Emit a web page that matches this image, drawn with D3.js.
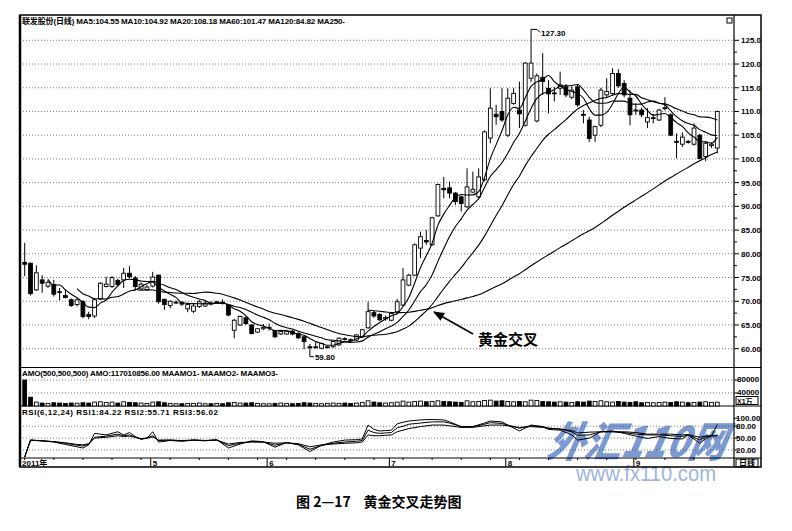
<!DOCTYPE html>
<html><head><meta charset="utf-8">
<script src="https://cdn.jsdelivr.net/npm/d3@7"></script>
<style>body{margin:0;background:#fff}svg{display:block}</style>
</head><body>
<svg id="c" width="792" height="531"></svg>
<script>
// ---------- DATA ----------
const opens=[78.2,78.0,72.4,74.5,73.2,73.5,72.0,71.2,70.3,69.3,69.9,67.2,66.9,70.5,73.1,73.1,74.4,74.5,75.9,74.9,72.6,72.4,73.2,75.5,70.4,69.1,69.8,69.8,68.4,67.9,68.9,69.0,69.6,69.7,69.8,69.2,63.9,65.0,66.5,65.0,63.5,64.2,64.4,63.7,63.1,63.1,63.7,63.2,62.5,60.4,60.3,60.1,60.3,60.4,60.8,62.1,61.9,61.8,62.5,64.4,67.6,67.2,66.3,66.0,67.8,69.2,73.4,75.5,81.2,82.8,81.9,88.0,93.8,93.9,92.8,92.0,89.9,93.0,92.0,95.6,104.4,109.4,110.0,105.0,111.7,110.3,107.1,117.0,108.0,117.2,114.9,113.9,114.9,115.2,113.0,115.2,109.4,108.2,105.0,107.1,113.5,113.8,118.0,115.9,112.8,110.3,110.3,107.8,108.5,108.2,110.6,109.3,103.7,103.1,103.7,103.1,105.0,100.5,102.8,102.3];
const highs=[82.3,78.2,77.6,75.5,74.5,74.5,72.8,72.5,70.6,70.8,70.2,67.8,70.6,74.0,75.2,75.3,74.8,77.0,77.4,75.3,74.0,73.4,76.2,75.6,70.6,70.2,70.2,70.0,69.4,69.6,70.3,70.0,70.0,70.1,70.4,69.4,66.3,67.0,66.8,65.2,64.3,65.2,65.3,64.0,63.8,64.0,64.0,63.5,62.7,61.0,61.6,61.3,60.6,61.7,62.4,62.4,62.2,63.1,64.2,69.9,68.0,67.5,67.0,67.6,70.5,77.0,75.8,82.2,84.7,85.0,87.8,94.8,96.2,95.2,93.0,92.3,98.0,97.3,98.0,106.0,114.9,111.4,114.9,114.9,114.9,116.3,120.4,127.3,118.0,122.3,116.6,115.2,118.4,115.8,115.3,115.8,110.3,108.9,107.0,115.0,117.0,119.1,118.9,116.6,114.5,111.7,110.8,110.7,109.5,110.6,113.0,109.6,105.4,105.6,104.0,107.5,105.3,103.8,103.5,110.2];
const lows=[75.3,71.2,72.2,71.8,72.8,71.0,70.2,70.6,68.8,68.9,66.4,66.2,66.5,70.2,72.9,72.8,73.2,72.8,74.8,72.3,72.4,72.2,72.9,69.5,68.2,68.5,69.4,69.0,67.7,67.5,68.6,68.8,69.1,69.5,69.3,66.8,62.2,64.8,65.0,63.0,63.3,63.9,63.8,62.3,62.9,63.0,62.8,62.0,59.9,59.8,60.0,59.9,60.1,60.2,60.6,61.7,61.5,61.6,62.3,64.2,66.5,65.8,65.9,65.8,67.5,69.0,73.2,75.3,79.1,81.9,81.7,87.8,91.7,91.7,90.3,88.9,89.7,92.8,91.5,95.3,103.3,107.2,107.8,104.6,111.4,106.5,106.8,116.2,107.7,113.5,109.6,112.1,113.5,113.0,112.6,111.0,107.5,103.6,103.6,106.7,112.8,113.5,115.0,113.0,107.1,109.3,108.8,106.5,107.5,108.0,110.2,104.8,100.1,102.5,103.2,102.8,99.9,99.5,102.3,101.2];
const closes=[77.8,71.6,76.0,73.8,74.0,71.5,71.9,70.8,69.1,70.3,66.8,66.8,70.3,73.8,73.6,75.0,73.5,75.9,75.2,73.1,73.6,73.0,75.1,69.9,69.3,70.0,69.8,69.4,69.3,69.0,69.9,69.6,69.5,69.9,69.6,67.1,66.0,66.8,65.3,63.2,64.2,64.5,64.5,62.5,63.6,63.7,63.1,62.3,61.5,60.2,60.4,61.1,60.4,61.5,62.2,62.0,61.8,62.9,64.0,67.8,66.9,66.1,66.6,67.4,69.9,74.5,75.5,81.9,83.6,82.5,87.6,94.6,93.5,92.8,91.0,90.6,94.1,93.6,96.2,105.7,110.7,108.9,108.2,112.8,113.8,109.5,120.2,120.2,117.5,116.3,113.7,113.8,115.6,113.5,114.5,111.4,109.2,104.3,106.8,114.5,114.2,118.0,115.4,113.5,109.3,110.1,109.3,108.7,108.7,110.3,110.8,105.0,103.5,104.6,103.5,106.5,100.1,103.3,103.1,110.0];

const ma5Start=4;
const ma5=[74.64,73.38,73.44,72.4,71.46,70.72,69.78,68.76,68.66,69.6,70.26,71.9,73.24,74.36,74.64,74.54,74.26,74.16,74.0,72.94,72.18,71.46,70.82,69.68,69.56,69.5,69.48,69.44,69.46,69.58,69.7,69.14,68.42,67.88,66.96,65.68,65.1,64.8,64.34,63.78,63.86,63.76,63.48,63.04,62.84,62.16,61.5,61.1,60.72,60.72,61.12,61.44,61.58,62.08,62.58,63.7,64.68,65.54,66.28,66.96,67.38,68.9,70.78,73.84,77.08,79.6,82.22,86.04,88.36,90.2,91.9,92.5,92.4,92.42,93.1,96.04,100.06,103.02,105.94,109.26,110.88,110.64,112.9,115.3,116.24,116.74,117.58,116.3,115.38,114.58,114.22,113.76,112.84,110.58,109.24,109.24,109.8,111.56,113.78,115.12,114.08,113.26,111.52,110.18,109.22,109.42,109.56,108.7,107.66,106.84,105.48,104.62,103.64,103.6,103.3,104.55];
const ma10Start=9;
const ma10=[72.68,71.58,71.1,70.53,70.53,70.49,70.84,71.0,71.51,72.12,72.4,73.08,73.7,74.18,73.79,73.36,72.86,72.49,71.84,71.25,70.84,70.47,70.13,69.57,69.57,69.6,69.31,68.93,68.67,68.27,67.69,67.12,66.61,66.11,65.37,64.77,64.43,64.14,63.69,63.31,63.01,62.63,62.29,61.88,61.78,61.64,61.47,61.34,61.4,61.65,62.41,63.06,63.56,64.18,64.77,65.54,66.79,68.16,70.06,72.02,73.49,75.56,78.41,81.1,83.64,85.75,87.36,89.22,90.39,91.65,93.97,96.28,97.71,99.18,101.18,103.46,105.35,107.96,110.62,112.75,113.81,114.11,114.6,115.34,115.41,115.48,115.67,114.57,112.98,111.91,111.73,111.78,112.2,112.18,112.18,111.66,111.53,111.54,111.98,112.17,111.75,111.41,110.11,108.92,108.03,107.45,107.09,106.17,105.63,105.07,104.92];
const ma20Start=19;
const ma20=[72.54,72.33,72.4,72.36,72.16,71.93,71.85,71.75,71.68,71.69,71.62,71.78,71.92,71.88,71.68,71.48,71.09,70.71,70.26,69.76,69.27,68.8,68.37,67.84,67.47,67.19,66.87,66.54,66.18,65.79,65.35,64.88,64.45,64.0,63.58,63.2,62.95,62.74,62.55,62.48,62.71,62.85,62.93,63.03,63.28,63.59,64.13,64.75,65.73,66.84,67.95,69.31,70.99,72.64,74.21,75.65,77.08,78.69,80.23,81.84,83.73,85.92,88.06,90.14,92.41,94.61,96.36,98.59,100.51,102.2,103.89,105.2,106.16,107.26,108.3,109.47,110.51,111.27,111.8,112.33,112.77,112.95,113.4,113.76,113.8,113.57,113.6,112.9,112.48,112.04,111.74,111.6,111.16,110.55,110.11,109.56,109.31,108.86,108.81,108.62,108.18];
const ma60Start=59;
const ma60=[68.17,67.99,67.9,67.74,67.64,67.57,67.62,67.68,67.86,68.1,68.31,68.65,69.12,69.5,69.82,70.11,70.37,70.71,71.01,71.36,71.9,72.52,73.12,73.67,74.39,75.13,75.79,76.63,77.47,78.27,79.06,79.79,80.53,81.3,82.02,82.77,83.51,84.23,84.85,85.55,86.4,87.23,88.13,88.97,89.82,90.59,91.36,92.13,92.9,93.69,94.52,95.36,96.1,96.81,97.53,98.22,98.96,99.6,100.27,100.93,101.47];

const amo=[80000,27000,12000,9000,8000,10000,9000,8000,9000,8500,10000,9000,12000,13000,11000,12000,9000,13000,11000,10000,9000,8000,12000,13000,10000,8000,7000,7000,8000,8000,9000,7000,7000,8000,7000,10000,11000,9000,9000,10000,8000,7000,7000,8000,9000,8000,7000,8000,10000,9000,8000,7000,8000,9000,8000,9000,8000,9000,11000,16000,12000,10000,9000,10000,12000,15000,12000,14000,15000,13000,14000,16000,14000,13000,12000,11000,16000,13000,14000,17000,18000,15000,16000,14000,13000,14000,13000,18000,17000,14000,13000,12000,13000,12000,11000,13000,12000,15000,14000,16000,13000,12000,14000,12000,11000,13000,10000,11000,10000,11000,12000,11000,13000,12000,10000,11000,12000,13000,11000,11701];

const rsiIdx=[0,1,3,5,7,9,10,11,12,14,16,17,18,19,20,21,22,23,25,27,29,31,33,35,37,39,41,43,45,47,49,51,53,55,57,58,59,60,61,62,63,64,65,66,68,70,72,73,75,77,79,80,82,83,85,87,89,90,92,94,95,97,99,101,103,105,107,109,111,113,114,116,117,118,119];
const rsi1=[2,45,43,40,34,28,25,33,62,58,66,58,64,54,47,50,66,40,44,42,45,43,46,25,35,43,41,27,39,33,16,32,40,45,46,48,83,72,68,69,70,86,90,93,96,97,96,91,79,79,88,93,91,83,68,83,79,72,70,58,45,50,66,68,62,55,49,54,49,48,58,37,49,55,84.22];
const rsi2=[2,45,43,41,37,32,30,35,52,55,60,56,58,52,48,50,56,44,45,43,45,44,45,31,37,41,40,32,38,34,22,31,37,40,42,44,70,64,62,63,64,76,80,85,88,91,91,88,79,79,85,89,87,83,75,81,79,75,73,66,57,58,66,66,64,60,58,58,56,54,58,45,54,56,55.71];
const rsi3=[2,45,43,41,38,34,33,36,50,52,56,54,55,52,48,50,53,45,45,44,45,44,45,35,39,40,40,37,38,36,28,33,35,37,38,40,58,56,56,57,58,66,70,74,79,83,83,81,77,77,81,83,83,81,77,79,77,75,73,69,63,65,66,66,66,64,60,60,60,58,59,52,55,56,56.02];

const priceTicks=[125,120,115,110,105,100,95,90,85,80,75,70,65,60];
const priceLabels=["125.0","120.0","115.0","110.0","105.0","100.0","95.00","90.00","85.00","80.00","75.00","70.00","65.00","60.00"];
const amoTicks=[80000,40000];
const amoLabels=["80000","40000"];
const rsiTicks=[100,80,50,20];
const rsiLabels=["100.00","80.00","50.00","20.00"];
const monthIdx=[0,22,42,63,83,105];
const monthLabels=["2011年","5","6","7","8","9"];

// ---------- LAYOUT ----------
const L=20, R=734, RO=761, T=15, B1=367.5, B2=406, B3=458, B4=467;
const svg=d3.select('#c');
const font='"Liberation Sans","Noto Sans CJK SC",Arial,sans-serif';
const x=d3.scaleLinear().domain([0,119]).range([24.7,717.3]);
const y=d3.scaleLinear().domain([60,125]).range([348.7,40.3]);
const ya=d3.scaleLinear().domain([0,80000]).range([B2,380]);
const yr=d3.scaleLinear().domain([0,100]).range([457.9,418.3]);

// watermark (behind)
const wm=svg.append('g');
wm.append('text').attr('x',548).attr('y',457).attr('font-family','"Noto Sans CJK SC",sans-serif')
  .attr('font-weight',900).attr('font-style','italic').attr('font-size',42).attr('fill','#4f78c4').attr('opacity',0.75)
  .attr('transform','skewX(-12) translate(95,0)').attr('textLength',178).attr('lengthAdjust','spacingAndGlyphs').text('外汇110网');
wm.append('text').attr('x',576).attr('y',481).attr('font-family',font).attr('font-size',22)
  .attr('fill','#7d9bd6').attr('opacity',0.75).attr('textLength',140).attr('lengthAdjust','spacingAndGlyphs').text('www.fx110.com');

// gridlines
const grid=svg.append('g').attr('stroke','#444').attr('stroke-width',0.7).attr('stroke-dasharray','1,2');
priceTicks.forEach(p=>grid.append('line').attr('x1',L).attr('x2',R).attr('y1',y(p)).attr('y2',y(p)));
amoTicks.forEach(v=>grid.append('line').attr('x1',L).attr('x2',R).attr('y1',ya(v)).attr('y2',ya(v)));
[80,50,20].forEach(v=>grid.append('line').attr('x1',L).attr('x2',R).attr('y1',yr(v)).attr('y2',yr(v)));

// frame
const fr=svg.append('g').attr('stroke','#000').attr('fill','none');
fr.append('rect').attr('x',L).attr('y',T).attr('width',RO-L).attr('height',B4-T).attr('stroke-width',1.5);
fr.append('line').attr('x1',L).attr('x2',L).attr('y1',T).attr('y2',B4).attr('stroke-width',2.5);
fr.append('line').attr('x1',R).attr('x2',R).attr('y1',T).attr('y2',B4).attr('stroke-width',1.2);
[B1,B2,B3].forEach(v=>fr.append('line').attr('x1',L).attr('x2',RO).attr('y1',v).attr('y2',v).attr('stroke-width',1.2));

// price axis
const ax=svg.append('g').attr('font-family',font).attr('font-size',8).attr('font-weight','bold');
d3.range(60,125.1,2.5).forEach(p=>{
  ax.append('line').attr('x1',R).attr('x2',R+(p%5===0?5:3)).attr('y1',y(p)).attr('y2',y(p)).attr('stroke','#000');
});
priceTicks.forEach((p,i)=>ax.append('text').attr('x',741).attr('y',y(p)+3).text(priceLabels[i]));
amoTicks.forEach((v,i)=>{ax.append('line').attr('x1',R).attr('x2',R+4).attr('y1',ya(v)).attr('y2',ya(v)).attr('stroke','#000');
  ax.append('text').attr('x',737).attr('y',ya(v)+2).text(amoLabels[i]);});
ax.append('rect').attr('x',736).attr('y',396.5).attr('width',22).attr('height',8).attr('fill','none').attr('stroke','#000');
ax.append('text').attr('x',737).attr('y',403.5).attr('font-size',7).text('X1万');
rsiTicks.forEach((v,i)=>{ax.append('line').attr('x1',R).attr('x2',R+4).attr('y1',yr(v)).attr('y2',yr(v)).attr('stroke','#000');
  ax.append('text').attr('x',736).attr('y',yr(v)+3).text(rsiLabels[i]);});

// date axis
const da=svg.append('g').attr('font-family',font).attr('font-size',8).attr('font-weight','bold');
d3.range(0,120,5).forEach(i=>da.append('line').attr('x1',x(i)).attr('x2',x(i)).attr('y1',B3).attr('y2',B3+2).attr('stroke','#000'));
monthIdx.forEach((m,i)=>{
  const xx=i===0?L:x(m)-2;
  da.append('line').attr('x1',xx).attr('x2',xx).attr('y1',B3).attr('y2',B4).attr('stroke','#000');
  da.append('text').attr('x',xx+2).attr('y',B4-1.5).text(monthLabels[i]);
});
da.append('rect').attr('x',736).attr('y',459).attr('width',22).attr('height',8).attr('fill','none').attr('stroke','#000');
da.append('text').attr('x',739).attr('y',466).text('日线');

// icon
svg.append('rect').attr('x',727).attr('y',18).attr('width',5).attr('height',5).attr('fill','none').attr('stroke','#000');

// candles
const cw=3.8;
const cg=svg.append('g');
d3.range(opens.length).forEach(i=>{
  const up=closes[i]>=opens[i];
  const top=y(Math.max(opens[i],closes[i])), bot=y(Math.min(opens[i],closes[i]));
  cg.append('line').attr('x1',x(i)).attr('x2',x(i)).attr('y1',y(highs[i])).attr('y2',y(lows[i])).attr('stroke','#000').attr('stroke-width',1);
  cg.append('rect').attr('x',x(i)-cw/2).attr('y',top).attr('width',cw).attr('height',Math.max(bot-top,0.8))
    .attr('fill',up?'#fff':'#000').attr('stroke','#000').attr('stroke-width',0.9);
});

// moving averages
const line=d3.line().x(d=>x(d[0])).y(d=>y(d[1])).curve(d3.curveMonotoneX);
[[ma5,ma5Start],[ma10,ma10Start],[ma20,ma20Start],[ma60,ma60Start]].forEach(([arr,s])=>{
  svg.append('path').attr('d',line(arr.map((v,k)=>[s+k,v]))).attr('fill','none').attr('stroke','#000').attr('stroke-width',1.1);
});

// high / low markers
const hi=d3.maxIndex(highs), lo=d3.minIndex(lows);
svg.append('path').attr('d',`M${x(hi)},${y(highs[hi])}h6l3,3`).attr('fill','none').attr('stroke','#000');
svg.append('text').attr('x',x(hi)+10).attr('y',y(highs[hi])+7).attr('font-family',font).attr('font-size',8).attr('font-weight','bold').text(highs[hi].toFixed(2));
svg.append('path').attr('d',`M${x(lo)},${y(lows[lo])}v7h4`).attr('fill','none').attr('stroke','#000');
svg.append('text').attr('x',x(lo)+5).attr('y',y(lows[lo])+10).attr('font-family',font).attr('font-size',8).attr('font-weight','bold').text(lows[lo].toFixed(2));

// AMO bars
const ag=svg.append('g');
amo.forEach((v,i)=>{
  const up=closes[i]>=opens[i];
  ag.append('rect').attr('x',x(i)-cw/2).attr('y',ya(v)).attr('width',cw).attr('height',B2-ya(v))
    .attr('fill',up?'#fff':'#000').attr('stroke','#000').attr('stroke-width',0.9);
});

// RSI
const rl=d3.line().x(d=>x(d[0])).y(d=>yr(d[1]));
[rsi1,rsi2,rsi3].forEach(arr=>svg.append('path').attr('d',rl(arr.map((v,k)=>[rsiIdx[k],v]))).attr('fill','none').attr('stroke','#000').attr('stroke-width',1));

// titles
const tt=svg.append('g').attr('font-family',font).attr('font-size',8).attr('font-weight','bold');
tt.append('text').attr('x',22).attr('y',24).attr('textLength',323).attr('lengthAdjust','spacing').text('联发股份(日线) MA5:104.55 MA10:104.92 MA20:108.18 MA60:101.47 MA120:84.82 MA250-');
tt.append('text').attr('x',22).attr('y',376).attr('textLength',256).attr('lengthAdjust','spacing').text('AMO(500,500,500) AMO:117010856.00 MAAMO1- MAAMO2- MAAMO3-');
tt.append('text').attr('x',22).attr('y',415).attr('textLength',196).attr('lengthAdjust','spacing').text('RSI(6,12,24) RSI1:84.22 RSI2:55.71 RSI3:56.02');

// golden cross annotation
const defs=svg.append('defs');
defs.append('marker').attr('id','ah').attr('viewBox','0 0 10 10').attr('refX',9).attr('refY',5).attr('markerWidth',7).attr('markerHeight',7).attr('orient','auto')
  .append('path').attr('d','M0,1L10,5L0,9z').attr('fill','#000');
svg.append('line').attr('x1',473).attr('y1',334).attr('x2',434).attr('y2',312).attr('stroke','#000').attr('stroke-width',1.6).attr('marker-end','url(#ah)');
svg.append('text').attr('x',478).attr('y',345).attr('font-family','"Noto Sans CJK SC",sans-serif').attr('font-size',15).attr('font-weight','bold').text('黄金交叉');

// caption
svg.append('text').attr('x',296).attr('y',507).attr('font-family','"Noto Sans CJK SC",sans-serif').attr('font-size',14).attr('font-weight','bold').attr('xml:space','preserve').text('图 2—17    黄金交叉走势图');
</script>
</body></html>
